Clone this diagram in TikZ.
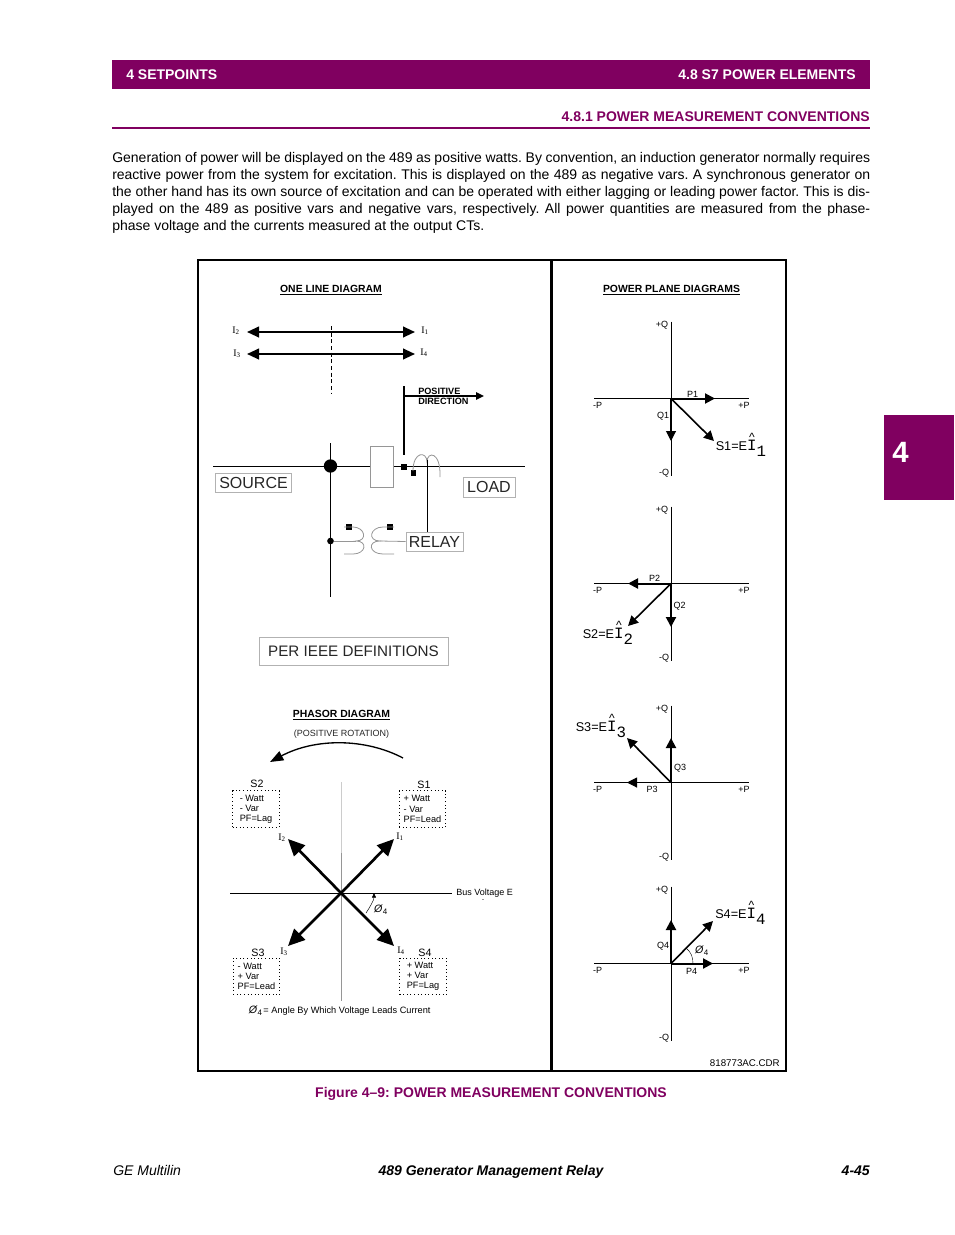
\documentclass[tikz,border=0pt]{standalone}
\usepackage{fontspec}
\setmainfont{Liberation Sans}
\newfontfamily\serifface{Liberation Serif}
\newfontfamily\monoface{Liberation Mono}
\usepackage{xcolor}
\usetikzlibrary{arrows.meta, positioning}
\definecolor{gepurple}{RGB}{128,0,96}
\definecolor{wiregray}{RGB}{150,150,150}
\newcommand{\fsize}[2]{\fontsize{#1}{#2}\selectfont}
\newcommand{\curI}[1]{{\serifface I\textsubscript{#1}}}
\newcommand{\angsym}[1]{\textit{Ø}\textsubscript{#1}}
\newcommand{\powerS}[1]{S#1=E\hbox{\fsize{11.8}{12}\monoface\makebox[0pt][l]{\makebox[0.6em]{\raisebox{6.6pt}{\fsize{9}{10}\rmfamily\^{}}}}I\raisebox{-4.5pt}{#1}}}
\begin{document}
\frenchspacing
\begin{tikzpicture}[
    x=0.75pt, y=-0.75pt,
    frameline/.style={line width=1.6pt},
    heading/.style={font=\bfseries\fsize{7.8}{9}, inner sep=0pt},
    wire/.style={line width=0.7pt},
    thinwire/.style={line width=0.6pt, draw=wiregray},
    twoway/.style={line width=1.5pt, {Triangle[length=9pt,width=8pt]}-{Triangle[length=9pt,width=8pt]}},
    phasor/.style={line width=2pt, -{Triangle[length=12.5pt,width=11.5pt]}},
    vec/.style={-{Triangle[length=7.5pt,width=7.5pt]}},
    lbl/.style={font=\fsize{6.75}{8}, inner sep=0pt},
    curlbl/.style={font=\fsize{7.5}{9}, inner sep=0pt},
    tagbox/.style={draw=gray!60, line width=0.5pt, inner sep=0pt, text=black!85, font=\fsize{12}{14}},
    phbox/.style={draw, dotted, line width=0.7pt, minimum width=35pt, minimum height=27.5pt, inner sep=0pt, align=left, font=\fsize{6.9}{7.6}},
    sq/.style={fill=black, inner sep=0pt, minimum size=4.5pt},
    splabel/.style={font=\fsize{9.5}{11}, inner sep=0pt, anchor=base west},
    pagetext/.style={inner sep=0pt, font=\fsize{10.5}{12.75}},
    pagehead/.style={inner sep=0pt, font=\bfseries\fsize{10.5}{12.75}}
]
\useasboundingbox (0,0) rectangle (954,1235);
\fill[white] (0,0) rectangle (954,1235);

\fill[gepurple] (112,60) rectangle (870,89);
\node[pagehead, text=white, anchor=west] (chapter) at (126,74.5) {4 SETPOINTS};
\node[pagehead, text=white, anchor=east] (section) at (856,74.5) {4.8 S7 POWER ELEMENTS};
\node[pagehead, text=gepurple, anchor=east] (subsection) at (870,117) {4.8.1 POWER MEASUREMENT CONVENTIONS};
\draw[gepurple, line width=1.5pt] (112,128) -- (870,128);
\fill[gepurple] (884,415) rectangle (954,500);
\node[inner sep=0pt, text=white, font=\bfseries\fsize{22}{24}] (tab) at (900.5,452.5) {4};

\node[pagetext, anchor=north west, text width=568.5pt, align=justify] (intro) at (112,152) {Generation of power will be displayed on the 489 as positive watts. By convention, an induction generator normally requires\linebreak
reactive power from the system for excitation. This is displayed on the 489 as negative vars. A synchronous generator on\linebreak
the other hand has its own source of excitation and can be operated with either lagging or leading power factor. This is dis-\linebreak
played on the 489 as positive vars and negative vars, respectively. All power quantities are measured from the phase-\linebreak
phase voltage and the currents measured at the output CTs.};

\draw[frameline] (198,260) rectangle (786,1071);
\draw[frameline] (551.5,260) -- (551.5,1071);

\node[heading] (onelinetitle) at (331,290) {\underline{ONE LINE DIAGRAM}};
\node[heading] (planetitle) at (671.5,290) {\underline{POWER PLANE DIAGRAMS}};

\coordinate (i2end) at (247,332);
\coordinate (i1end) at (415,332);
\coordinate (i3end) at (247,354);
\coordinate (i4end) at (415,354);
\coordinate (cuttop) at (331,326);
\coordinate (cutbot) at (331,393);
\draw[twoway] (i2end) -- (i1end);
\draw[twoway] (i3end) -- (i4end);
\draw[densely dashed, line width=0.5pt] (cuttop) -- (cutbot);
\node[curlbl] (li2) at (236,331) {\curI{2}};
\node[curlbl] (li1) at (425,331) {\curI{1}};
\node[curlbl] (li3) at (237,354) {\curI{3}};
\node[curlbl] (li4) at (424,353) {\curI{4}};

\coordinate (postop) at (404,386);
\coordinate (posbot) at (404,455);
\coordinate (posstart) at (404,396);
\coordinate (posend) at (484,396);
\draw[line width=1.3pt] (postop) -- (posbot);
\draw[line width=1.1pt, -{Triangle[length=6pt,width=5.5pt]}] (posstart) -- (posend);
\node[font=\bfseries\fsize{6.85}{7.6}, inner sep=0pt, anchor=west, align=left] (posdir) at (418,396) {POSITIVE\\DIRECTION};

\coordinate (busl) at (213,466.5);
\coordinate (busr) at (525,466.5);
\coordinate (gridtop) at (330.5,443);
\coordinate (gridbot) at (330.5,597);
\coordinate (ctwire) at (427,460);
\draw[wire] (busl) -- (busr);
\draw[wire] (gridtop) -- (gridbot);
\node[circle, fill=black, inner sep=0pt, minimum size=10pt] (busdot) at (330.5,466) {};
\node[circle, fill=black, inner sep=0pt, minimum size=5pt] (ptdot) at (330.5,541) {};
\node[rectangle, draw=wiregray, fill=white, line width=0.5pt, minimum width=17pt, minimum height=30.5pt, inner sep=0pt] (breaker) at (381.5,466.5) {};
\node[sq] (ctsq) at (404,467) {};
\node[sq, minimum size=4pt] (ctsqb) at (413.5,473) {};
\draw[thinwire] (413,471) .. controls (413,451) and (427,451) .. (427,462) .. controls (427,451) and (441,451) .. (440,477);

\node[tagbox, minimum width=76pt*0.75, minimum height=14.25pt] (source) at (253.5,482.5) {SOURCE};
\node[tagbox, minimum width=52pt*0.75, minimum height=15pt] (load) at (489,487) {LOAD};
\node[tagbox, minimum width=57pt*0.75, minimum height=14.25pt] (relay) at (434.5,541.5) {RELAY};
\draw[wire] (ctwire) -- (ctwire |- relay.north);

\node[sq] (ptsqa) at (349,527) {};
\node[sq] (ptsqb) at (390,527) {};
\draw[thinwire] (344,527) -- (353,527) .. controls (365,527) and (368,541) .. (356,541) .. controls (368,541) and (366,554) .. (353,554) -- (344,554);
\draw[thinwire] (394,527) -- (383,527) .. controls (370,527) and (367,541) .. (380,541) .. controls (367,541) and (369,554) .. (383,554) -- (394,554);
\draw[thinwire] (ptdot) -- (356,541);
\draw[thinwire] (380,541) -- (relay.west);

\node[draw=gray!60, line width=0.5pt, minimum width=189pt*0.75, minimum height=28pt*0.75, inner sep=0pt, text=black!85, font=\fsize{11.4}{14}] (ieee) at (353.5,651) {PER IEEE DEFINITIONS};

\node[heading] (phasortitle) at (341.5,715) {\underline{PHASOR DIAGRAM}};
\node[lbl, text=black!85] (rotation) at (341.5,734.5) {(POSITIVE ROTATION)};
\coordinate (rotstart) at (403,758);
\coordinate (rotend) at (270,762);
\draw[line width=1pt, -{Triangle[length=10pt,width=7.5pt]}] (rotstart) .. controls (365,738) and (315,738) .. (rotend);

\coordinate (ph0) at (341,893);
\coordinate (ph1) at (394,839);
\coordinate (ph2) at (288,839);
\coordinate (ph3) at (288,946);
\coordinate (ph4) at (394,946);
\coordinate (busvl) at (230,893);
\coordinate (busvr) at (452,893);
\coordinate (refa) at (341,782);
\coordinate (refb) at (341,853);
\coordinate (refc) at (341,1001);
\draw[line width=0.5pt, draw=gray!40] (refa) -- (refb);
\draw[line width=0.5pt, draw=wiregray] (refb) -- (refc);
\draw[line width=0.6pt] (busvl) -- (busvr);
\foreach \n in {1,...,4} {
  \draw[phasor] (ph0) -- (ph\n);
}
\coordinate (anga) at (366,913);
\coordinate (angb) at (374,893);
\draw[line width=0.35pt, -{Triangle[length=3.5pt,width=3pt]}] (anga) .. controls (370,907) and (374,900) .. (angb);
\node[curlbl, font=\fsize{8}{9}] (phiph) at (381,910) {\angsym{4}};
\node[lbl, anchor=west] (busv) at (456,893) {Bus Voltage E};
\node[lbl, inner sep=0pt] (busdotmark) at (483,900) {.};

\node[curlbl] (pi1) at (400,837) {\curI{1}};
\node[curlbl] (pi2) at (282,838) {\curI{2}};
\node[curlbl] (pi3) at (284,952) {\curI{3}};
\node[curlbl] (pi4) at (401,951) {\curI{4}};

\node[lbl, font=\fsize{8}{9}] (s1) at (424,785) {S1};
\node[lbl, font=\fsize{8}{9}] (s2) at (257,784) {S2};
\node[lbl, font=\fsize{8}{9}] (s3) at (258,953) {S3};
\node[lbl, font=\fsize{8}{9}] (s4) at (425,953) {S4};
\node[phbox] (q2box) at (256,809) {- Watt\\- Var\\PF=Lag};
\node[phbox] (q1box) at (422.5,809) {+ Watt\\- Var\\PF=Lead};
\node[phbox] (q3box) at (256.5,976.5) {- Watt\\+ Var\\PF=Lead};
\node[phbox] (q4box) at (423,976.5) {+ Watt\\+ Var\\PF=Lag};
\node[lbl, anchor=west] (anglenote) at (248.5,1011) {\fsize{8}{9}\angsym{4}\fsize{6.9}{8}\hspace{0.6pt}= Angle By Which Voltage Leads Current};

\foreach \n/\oy in {1/398.5,2/583.5,3/782.5,4/963.5} {
  \coordinate (o\n) at (671,\oy);
  \coordinate (ow\n) at (594,\oy);
  \coordinate (oe\n) at (749,\oy);
  \coordinate (on\n) at (671,\oy-77);
  \coordinate (os\n) at (671,\oy+77);
  \draw[wire] (ow\n) -- (oe\n);
  \draw[wire] (on\n) -- (os\n);
  \node[lbl] (qp\n) at (662,\oy-73.5) {+Q};
  \node[lbl] (qm\n) at (664,\oy+74.5) {-Q};
  \node[lbl] (pm\n) at (597.5,\oy+6.5) {-P};
  \node[lbl] (pp\n) at (744,\oy+6.5) {+P};
}
\coordinate (p1) at (715,398.5);
\coordinate (q1) at (671,441);
\coordinate (v1) at (714,441);
\coordinate (p2) at (628,583.5);
\coordinate (q2) at (671,627);
\coordinate (v2) at (628,626);
\coordinate (p3) at (627,782.5);
\coordinate (q3) at (671,738);
\coordinate (v3) at (627,738);
\coordinate (p4) at (713,963.5);
\coordinate (q4) at (671,920);
\coordinate (v4) at (713,921);
\foreach \n/\pw/\qw in {1/1.5/0.8,2/1.5/1.5,3/0.8/1.5,4/1.5/1.5} {
  \draw[vec, line width=\pw pt] (o\n) -- (p\n);
  \draw[vec, line width=\qw pt] (o\n) -- (q\n);
  \draw[vec, line width=1.2pt] (o\n) -- (v\n);
}
\node[lbl] (lp1) at (692.5,394) {P1};
\node[lbl] (lq1) at (663,416) {Q1};
\node[lbl] (lp2) at (654.5,578.5) {P2};
\node[lbl] (lq2) at (679.5,606) {Q2};
\node[lbl] (lp3) at (652,789.5) {P3};
\node[lbl] (lq3) at (680,768.5) {Q3};
\node[lbl] (lp4) at (691.5,971.5) {P4};
\node[lbl] (lq4) at (663,946) {Q4};
\node[splabel] (ls1) at (715.5,450) {\powerS{1}};
\node[splabel] (ls2) at (582.5,638) {\powerS{2}};
\node[splabel] (ls3) at (575.5,731) {\powerS{3}};
\node[splabel] (ls4) at (715,918.5) {\powerS{4}};
\coordinate (arca) at (693,963.5);
\coordinate (arcb) at (686,948);
\draw[line width=0.3pt] (arca) .. controls (693,957) and (691,952) .. (arcb);
\node[curlbl, font=\fsize{8}{9}] (phipl) at (702,950.5) {\angsym{4}};
\node[lbl, font=\fsize{7.3}{8}, anchor=east] (drawing) at (780,1063.5) {818773AC.CDR};

\node[pagehead, text=gepurple, anchor=base] (caption) at (491,1097) {Figure 4–9: POWER MEASUREMENT CONVENTIONS};
\node[pagetext, font=\itshape\fsize{10.5}{12.75}, anchor=base west] (footl) at (113,1175) {GE Multilin};
\node[pagehead, font=\bfseries\itshape\fsize{10.5}{12.75}, anchor=base] (footc) at (491,1175) {489 Generator Management Relay};
\node[pagehead, font=\bfseries\itshape\fsize{10.5}{12.75}, anchor=base east] (footr) at (870,1175) {4-45};
\end{tikzpicture}
\end{document}
